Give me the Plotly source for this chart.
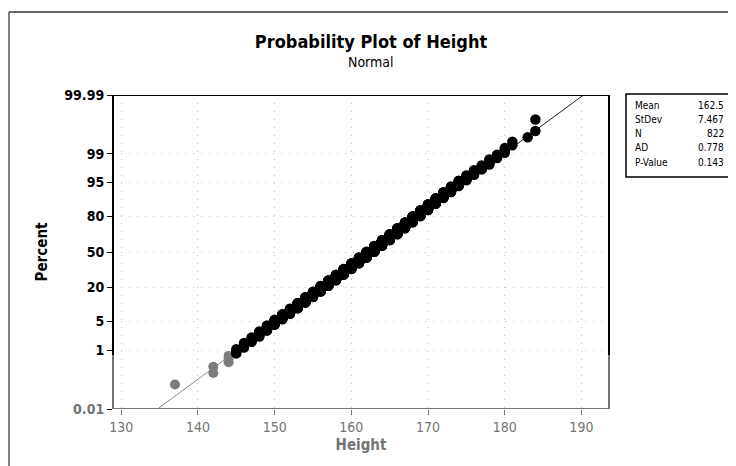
import math
import numpy as np
import plotly.graph_objects as go

# ---- data ----
heights = list(range(137, 185))
counts = [1, 0, 0, 0, 0, 2, 0, 3, 3, 4, 5, 7, 9, 11, 13, 16, 20, 23, 26, 30,
          33, 37, 39, 42, 44, 45, 45, 44, 43, 41, 38, 35, 31, 27, 22, 19, 15, 12, 9, 7,
          5, 5, 3, 3, 2, 0, 1, 2]
stat_labels = ["Mean", "StDev", "N", "AD", "P-Value"]
stat_values = ["162.5", "7.467", "822", "0.778", "0.143"]
MEAN = 162.5
STDEV = 7.467
pct_ticks = [0.01, 1, 5, 20, 50, 80, 95, 99, 99.99]
pct_labels = ["0.01", "1", "5", "20", "50", "80", "95", "99", "99.99"]
x_ticks = [130, 140, 150, 160, 170, 180, 190]


def ppf(p):
    a = [-3.969683028665376e+01, 2.209460984245205e+02, -2.759285104469687e+02,
         1.383577518672690e+02, -3.066479806614716e+01, 2.506628277459239e+00]
    b = [-5.447609879822406e+01, 1.615858368580409e+02, -1.556989798598866e+02,
         6.680131188771972e+01, -1.328068155288572e+01]
    c = [-7.784894002430293e-03, -3.223964580411365e-01, -2.400758277161838e+00,
         -2.549732943259946e+00, 4.374664141464968e+00, 2.938163982698783e+00]
    d = [7.784695709041462e-03, 3.224671290700398e-01, 2.445134137142996e+00,
         3.754408661907416e+00]
    plow = 0.02425
    if p < plow:
        q = math.sqrt(-2 * math.log(p))
        return (((((c[0]*q+c[1])*q+c[2])*q+c[3])*q+c[4])*q+c[5]) / \
               ((((d[0]*q+d[1])*q+d[2])*q+d[3])*q+1)
    if p > 1 - plow:
        q = math.sqrt(-2 * math.log(1 - p))
        return -(((((c[0]*q+c[1])*q+c[2])*q+c[3])*q+c[4])*q+c[5]) / \
                ((((d[0]*q+d[1])*q+d[2])*q+d[3])*q+1)
    q = p - 0.5
    r = q * q
    return (((((a[0]*r+a[1])*r+a[2])*r+a[3])*r+a[4])*r+a[5])*q / \
           (((((b[0]*r+b[1])*r+b[2])*r+b[3])*r+b[4])*r+1)


vals = np.repeat(heights, counts)
n = len(vals)
ranks = np.arange(1, n + 1)
zs = np.array([ppf((i - 0.3) / (n + 0.4)) for i in ranks])

z_top = ppf(0.9999)
z_bot = ppf(0.0001)
z_cut = -2.45  # lighter (faded) lower region of the scanned original

FONT = "DejaVu Sans Condensed"
GRAY = "#747474"

fig = go.Figure()

# fitted line
zl = np.array([z_bot, z_cut])
zu = np.array([z_cut, z_top])
fig.add_trace(go.Scatter(x=MEAN + STDEV * zl, y=zl, mode="lines",
                         line=dict(color="#8a8a8a", width=1), hoverinfo="skip"))
fig.add_trace(go.Scatter(x=MEAN + STDEV * zu, y=zu, mode="lines",
                         line=dict(color="#222222", width=1), hoverinfo="skip"))

lo = zs < z_cut
fig.add_trace(go.Scatter(x=vals[lo], y=zs[lo], mode="markers",
                         marker=dict(color="#7c7c7c", size=10)))
fig.add_trace(go.Scatter(x=vals[~lo], y=zs[~lo], mode="markers",
                         marker=dict(color="#000000", size=10.5)))

# figure is shown with the page's 8px body margin, so it is 8px smaller
W, H = 728, 458
L, R, T, B = 105, 127, 87, 57

fig.update_layout(
    width=W, height=H,
    margin=dict(l=L, r=R, t=T, b=B),
    paper_bgcolor="white", plot_bgcolor="white",
    showlegend=False,
    title=dict(
        text="<b>Probability Plot of Height</b>",
        x=(371 - 8) / W, xref="container", xanchor="center",
        y=1 - (42 - 8) / H, yref="container", yanchor="middle",
        font=dict(family=FONT, size=18, color="#000000"),
    ),
    xaxis=dict(
        range=[128.92, 193.6], tickvals=x_ticks,
        ticks="outside", ticklen=5, tickcolor=GRAY,
        tickfont=dict(family=FONT, size=14, color=GRAY),
        showline=False, zeroline=False,
        showgrid=True, gridcolor="#c4c4c4", griddash="1px,7px", gridwidth=1,
        title=dict(text="<b>Height</b>", standoff=5,
                   font=dict(family=FONT, size=15, color=GRAY)),
    ),
    yaxis=dict(
        range=[z_bot, z_top], tickvals=[ppf(p / 100) for p in pct_ticks],
        ticktext=[("<span style='color:%s'>%s</span>" % (GRAY, t)) if t == "0.01" else t
                  for t in pct_labels],
        ticks="outside", ticklen=5, tickcolor="#000000",
        tickfont=dict(family=FONT, size=14, color="#000000", weight="bold"),
        showline=False, zeroline=False,
        showgrid=True, gridcolor="#c4c4c4", griddash="1px,7px", gridwidth=1,
        title=dict(text="<b>Percent</b>", standoff=13,
                   font=dict(family=FONT, size=15, color="#000000")),
    ),
)

# reference-pixel -> paper coordinate helpers
px = lambda v: (v - 8 - L) / (W - L - R)
py = lambda v: (H - B - (v - 8)) / (H - T - B)

shapes = []
# plot box borders
shapes.append(dict(type="line", xref="paper", yref="y", x0=0, x1=1, y0=z_top, y1=z_top,
                   line=dict(color="#000000", width=2)))
shapes.append(dict(type="line", xref="paper", yref="y", x0=0, x1=0, y0=z_cut, y1=z_top,
                   line=dict(color="#000000", width=2)))
shapes.append(dict(type="line", xref="paper", yref="y", x0=0, x1=0, y0=z_bot, y1=z_cut,
                   line=dict(color=GRAY, width=2)))
shapes.append(dict(type="line", xref="paper", yref="y", x0=1, x1=1, y0=z_cut, y1=z_top,
                   line=dict(color="#000000", width=2)))
shapes.append(dict(type="line", xref="paper", yref="y", x0=1, x1=1, y0=z_bot, y1=z_cut,
                   line=dict(color=GRAY, width=2)))
shapes.append(dict(type="line", xref="paper", yref="y", x0=0, x1=1, y0=z_bot, y1=z_bot,
                   line=dict(color=GRAY, width=2)))
# outer frame
shapes.append(dict(type="line", xref="paper", yref="paper", x0=px(9), x1=px(736), y0=py(12), y1=py(12),
                   line=dict(color="#333333", width=1.5)))
shapes.append(dict(type="line", xref="paper", yref="paper", x0=px(9), x1=px(9), y0=py(12), y1=py(466),
                   line=dict(color="#555555", width=1.5)))
# stats box
shapes.append(dict(type="rect", xref="paper", yref="paper", x0=px(626), x1=px(730), y0=py(94), y1=py(177),
                   line=dict(color="#000000", width=1.5), fillcolor="white"))
fig.update_layout(shapes=shapes)

anns = [dict(xref="paper", yref="paper", x=px(371), y=py(62), text="Normal", showarrow=False,
             xanchor="center", yanchor="middle",
             font=dict(family=FONT, size=14, color="#000000"))]
row_y = [105, 119, 133, 147, 162]
for lab, val, yy in zip(stat_labels, stat_values, row_y):
    anns.append(dict(xref="paper", yref="paper", x=px(633), y=py(yy), text=lab, showarrow=False,
                     xanchor="left", yanchor="middle",
                     font=dict(family=FONT, size=10, color="#000000")))
    anns.append(dict(xref="paper", yref="paper", x=px(726), y=py(yy), text=val, showarrow=False,
                     xanchor="right", yanchor="middle",
                     font=dict(family=FONT, size=10, color="#000000")))
fig.update_layout(annotations=anns)

fig.write_html("out.html")
